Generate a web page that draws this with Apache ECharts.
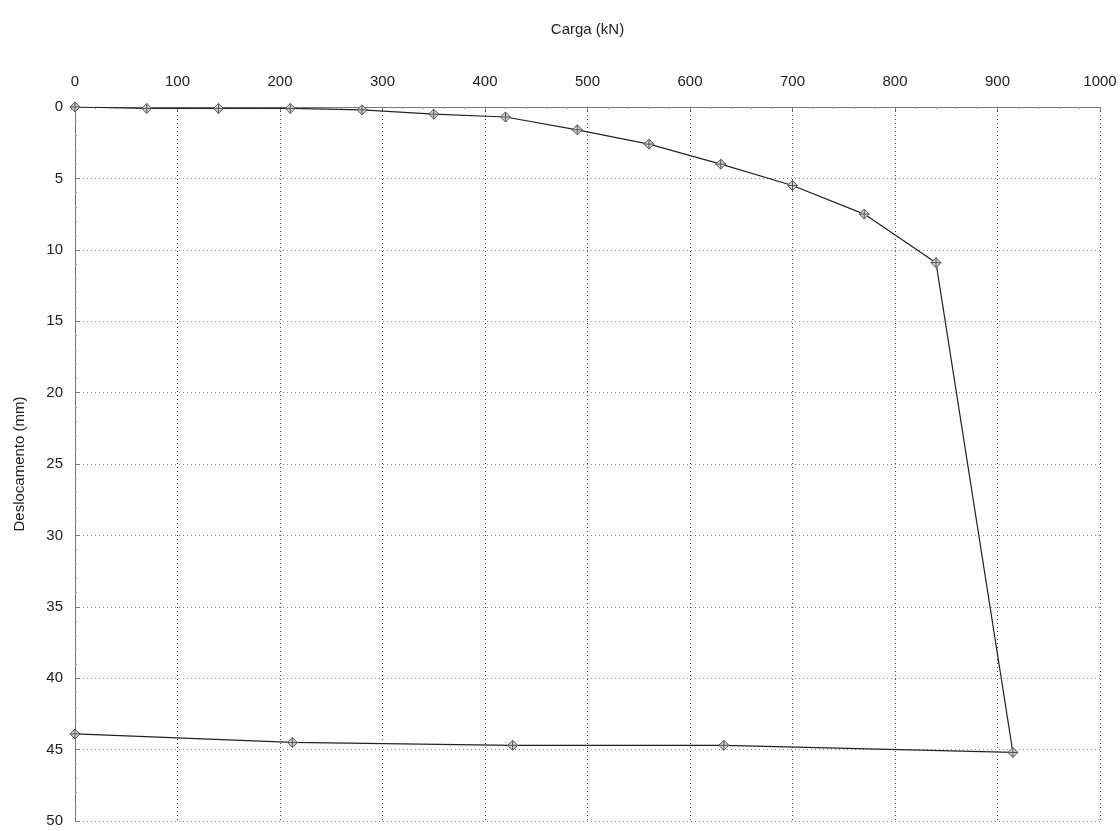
<!DOCTYPE html>
<html>
<head>
<meta charset="utf-8">
<script src="https://cdn.jsdelivr.net/npm/echarts@6/dist/echarts.min.js"></script>
<style>
  html, body { margin: 0; padding: 0; background: #fff; }
  #chart { width: 1120px; height: 831px; }
</style>
</head>
<body>
<div id="chart"></div>
<script>
// Load test: loading stages then unloading (load in kN, settlement in mm)
const loadKN = [0, 70, 140, 210, 280, 350, 420, 490, 560, 630, 700, 770, 840, 915, 633, 427, 212, 0];
const displacementMM = [0, 0.1, 0.1, 0.1, 0.2, 0.5, 0.7, 1.6, 2.6, 4.0, 5.5, 7.5, 10.9, 45.2, 44.7, 44.7, 44.5, 43.9];

const xAxisName = 'Carga (kN)';
const yAxisName = 'Deslocamento (mm)';

const points = loadKN.map((x, i) => [x, displacementMM[i]]);

const font = '"Liberation Sans", Arial, sans-serif';

const chart = echarts.init(document.getElementById('chart'), null, { renderer: 'canvas' });
chart.setOption({
  backgroundColor: '#ffffff',
  animation: false,
  grid: { left: 75, right: 20, top: 107, bottom: 10, containLabel: false },
  xAxis: {
    type: 'value',
    position: 'top',
    min: 0, max: 1000, interval: 100,
    name: xAxisName,
    nameLocation: 'middle',
    nameGap: 70,
    nameTextStyle: { fontFamily: font, fontSize: 15, color: '#222' },
    axisLine: { show: true, lineStyle: { color: '#777', width: 1 } },
    axisTick: { show: true, inside: true, length: 4, lineStyle: { color: '#777' } },
    minorTick: { show: true, splitNumber: 5, length: 2, lineStyle: { color: '#999' } },
    axisLabel: { fontFamily: font, fontSize: 15, color: '#222', margin: 18, formatter: v => String(v) },
    splitLine: { show: true, lineStyle: { type: [1, 3], color: '#444', width: 1 } }
  },
  yAxis: {
    type: 'value',
    inverse: true,
    min: 0, max: 50, interval: 5,
    name: yAxisName,
    nameLocation: 'middle',
    nameGap: 48,
    nameRotate: 90,
    nameTextStyle: { fontFamily: font, fontSize: 15, color: '#222' },
    axisLine: { show: true, onZero: false, lineStyle: { color: '#777', width: 1 } },
    axisTick: { show: true, inside: true, length: 4, lineStyle: { color: '#777' } },
    minorTick: { show: true, splitNumber: 5, length: 2, lineStyle: { color: '#999' } },
    axisLabel: { fontFamily: font, fontSize: 15, color: '#222', margin: 12 },
    splitLine: { show: true, lineStyle: { type: [1, 3], color: '#888', width: 1 } }
  },
  series: [{
    type: 'line',
    data: points,
    symbol: 'path://M0,-5 L5,0 L0,5 L-5,0 Z M0,-5 L0,5 M-5,0 L5,0',
    symbolSize: 10,
    showAllSymbol: true,
    lineStyle: { color: '#222', width: 1.2 },
    itemStyle: { color: '#d0d0d0', borderColor: '#555', borderWidth: 1 },
    z: 5
  }]
});
</script>
</body>
</html>
